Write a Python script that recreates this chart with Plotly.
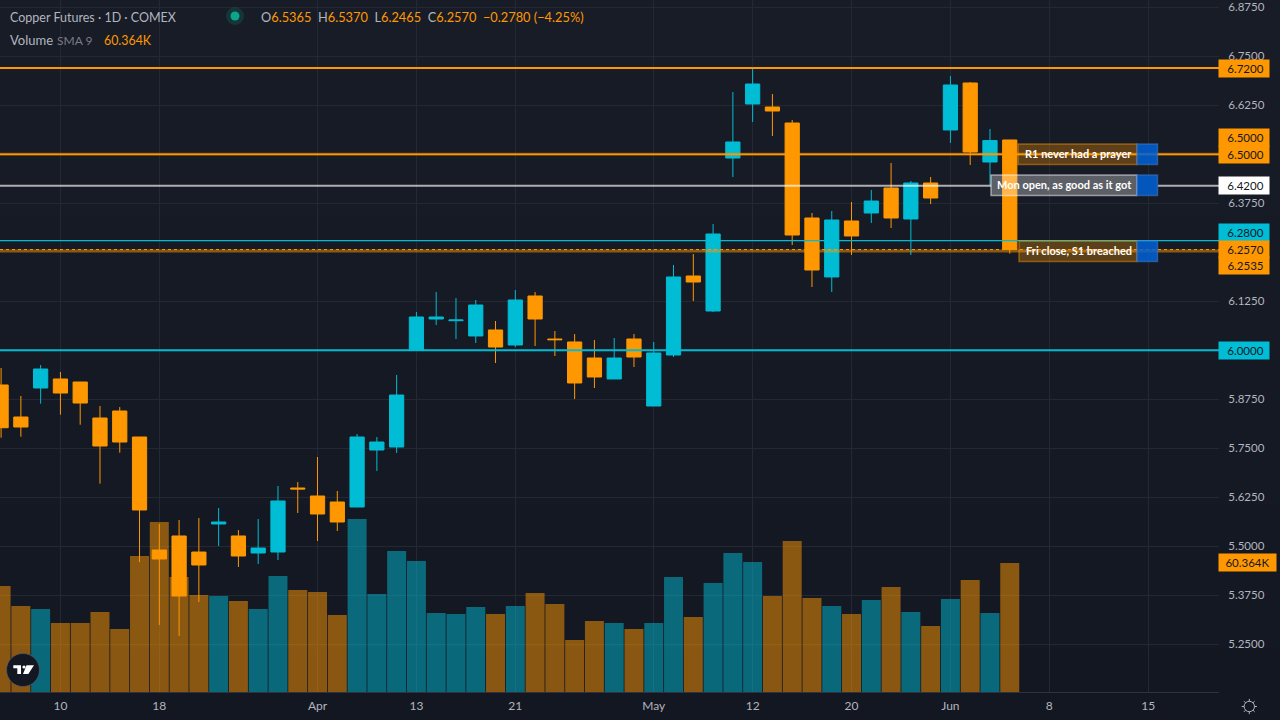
import math
import plotly.graph_objects as go

# Session index for each daily bar; the axis labels sit on selected sessions.
sessions = list(range(-3, 49))

opens = [5.9115, 5.8298, 5.9038, 5.9268, 5.9191, 5.8273, 5.8451, 5.7788, 5.4905, 5.5263, 5.4854, 5.5569, 5.5263,
         5.4829, 5.4854, 5.6487, 5.6283, 5.613, 5.6002, 5.7456, 5.7533, 6.0007, 6.0798, 6.0755, 6.0365, 6.0518,
         6.0135, 6.1385, 6.0288, 6.0212, 5.9803, 5.9268, 6.0288, 5.8579, 5.988, 6.1895, 6.1002, 6.4905, 6.6283,
         6.6206, 6.5798, 6.3375, 6.187, 6.3298, 6.3502, 6.414, 6.3349, 6.4268, 6.562, 6.6819, 6.4803, 6.5365]
highs = [5.9548, 5.8834, 5.9625, 5.9446, 5.9191, 5.8579, 5.8553, 5.7788, 5.5569, 5.5671, 5.5722, 5.5977, 5.5416,
         5.5696, 5.6538, 5.664, 5.7278, 5.641, 5.7865, 5.7788, 5.937, 6.0977, 6.1487, 6.1334, 6.1283, 6.0747,
         6.1538, 6.1487, 6.0492, 6.0416, 6.0263, 6.0314, 6.0416, 6.0212, 6.2176, 6.2456, 6.3222, 6.6589, 6.7176,
         6.6538, 6.5875, 6.3502, 6.3553, 6.3783, 6.4089, 6.4778, 6.4319, 6.4421, 6.6997, 6.6844, 6.5645, 6.537]
lows = [5.777, 5.7796, 5.8638, 5.8357, 5.8102, 5.6597, 5.7388, 5.4599, 5.2992, 5.2712, 5.3579, 5.5007, 5.4472,
        5.4548, 5.465, 5.5849, 5.5135, 5.539, 5.6002, 5.6921, 5.738, 6.0007, 6.0645, 6.0288, 6.0186, 5.9676,
        6.0084, 6.0109, 5.9854, 5.8757, 5.9038, 5.9268, 5.9574, 5.8579, 5.9829, 6.1257, 6.0977, 6.4421, 6.5824,
        6.5467, 6.2686, 6.1615, 6.1487, 6.2431, 6.3247, 6.312, 6.2431, 6.3732, 6.5288, 6.4727, 6.4217, 6.2465]
closes = [5.8025, 5.8043, 5.9523, 5.891, 5.8655, 5.7558, 5.766, 5.5926, 5.4676, 5.3732, 5.4523, 5.562, 5.4752,
          5.4956, 5.6156, 5.6462, 5.5824, 5.562, 5.7788, 5.766, 5.8859, 6.0849, 6.0849, 6.0773, 6.1155, 6.0084,
          6.1283, 6.0798, 6.027, 5.9166, 5.9319, 5.9803, 5.9829, 5.9931, 6.187, 6.1742, 6.2967, 6.5314, 6.6793,
          6.6104, 6.2941, 6.2048, 6.3324, 6.2916, 6.3808, 6.3375, 6.4268, 6.3885, 6.6768, 6.5058, 6.535, 6.257]

# Daily volume in thousands of contracts.
volumes_k = [49.6, 40.2, 38.8, 32.3, 32.3, 37.4, 29.5, 63.6, 79.6, 53.8, 45.4, 44.9, 42.6,
             38.8, 54.3, 47.7, 46.8, 36.0, 81.0, 45.9, 66.0, 61.3, 37.0, 36.5, 39.8, 36.5,
             40.2, 46.3, 41.2, 24.3, 33.2, 32.3, 29.5, 32.3, 53.8, 35.1, 51.0, 65.0, 60.8,
             44.9, 70.7, 44.0, 40.2, 36.5, 43.1, 49.1, 37.4, 30.9, 43.5, 52.4, 37.0, 60.364]

tick_sessions = [0, 5, 13, 18, 23, 30, 35, 40, 45, 50, 55]
tick_labels = ["10", "18", "Apr", "13", "21", "May", "12", "20", "Jun", "8", "15"]

# Scale labels; 6.0, 6.25 and 6.5 are taken by price tags and only keep their grid lines.
price_ticks = [5.25, 5.375, 5.5, 5.625, 5.75, 5.875, 6.125, 6.375, 6.625, 6.75, 6.875]
tagged_grid = [6.0, 6.25, 6.5]

ORANGE = "#FF9800"
CYAN = "#00BCD4"
BG_TOP = "#181C27"
BG_BOTTOM = "#131722"
TEXT = "#B2B5BE"
FONT = "Lato"
PX_W, PX_H = 1280, 720
PANE_R, PANE_B = 1219, 692
GRID = "#242833"
TICK_SIZE = 11.5


def px(x):
    return x / PX_W


def py(y):
    return 1 - y / PX_H


fig = go.Figure()

# Full-page vertical background wash on its own hidden axes.
fig.add_trace(go.Heatmap(
    x=[0, 1], y=[0, 1], z=[[0, 0], [1, 1]], zsmooth="best", showscale=False, hoverinfo="skip",
    colorscale=[[0, BG_BOTTOM], [1, BG_TOP]], xaxis="x", yaxis="y",
))

vol_colors = ["rgba(0,188,212,0.5)" if c > o else "rgba(255,152,0,0.5)" for o, c in zip(opens, closes)]
fig.add_trace(go.Bar(
    x=sessions, y=volumes_k, width=0.96, marker=dict(color=vol_colors, line=dict(width=0)),
    hoverinfo="skip", xaxis="x2", yaxis="y2",
))

fig.add_trace(go.Candlestick(
    x=sessions, open=opens, high=highs, low=lows, close=closes,
    increasing=dict(line=dict(color=CYAN, width=1), fillcolor=CYAN),
    decreasing=dict(line=dict(color=ORANGE, width=1), fillcolor=ORANGE),
    whiskerwidth=0, hoverinfo="skip", xaxis="x2", yaxis="y3",
))

shapes = []

for g in tagged_grid:
    shapes.append(dict(type="line", xref="paper", yref="y3", x0=0, x1=px(PANE_R), y0=g, y1=g,
                       line=dict(color=GRID, width=1), layer="below"))


def level(price, color, width, x0=0, x1=PANE_R, dash="solid"):
    shapes.append(dict(type="line", xref="paper", yref="y3", x0=px(x0), x1=px(x1), y0=price, y1=price,
                       line=dict(color=color, width=width, dash=dash), layer="above"))


R1 = 6.5
R2 = 6.72
MON_OPEN = 6.42
S1 = 6.28
FRI_MARK = 6.2535
S2 = 6.0
LAST_CLOSE = closes[-1]

level(R2, ORANGE, 2)
level(R1, "rgba(255,152,0,0.45)", 3)
level(R1, ORANGE, 1.5)
level(MON_OPEN, "rgba(255,255,255,0.65)", 2, 0, 991)
level(MON_OPEN, "rgba(255,255,255,0.65)", 2, 1158, PANE_R)
level(S1, CYAN, 1.2)
level(FRI_MARK, "rgba(255,152,0,0.5)", 3)
level(LAST_CLOSE, ORANGE, 1, dash="dot")
level(S2, CYAN, 2)


def rect(x0, y0, x1, y1, fill, edge):
    shapes.append(dict(type="rect", xref="paper", yref="paper", x0=px(x0), x1=px(x1), y0=py(y0), y1=py(y1),
                       fillcolor=fill, line=dict(color=edge, width=1.5), layer="above"))


# Callout boxes with their blue end caps.
callouts = [
    (1018, 144, "R1 never had a prayer", "rgba(255,152,0,0.3)", "rgba(255,152,0,0.45)"),
    (991, 175, "Mon open, as good as it got", "rgba(255,255,255,0.3)", "rgba(255,255,255,0.5)"),
    (1019, 241, "Fri close, S1 breached", "rgba(255,152,0,0.3)", "rgba(255,152,0,0.45)"),
]
annotations = []


def page_text(x, y, text, size=12, color=TEXT, anchor="left", weight=None):
    font = dict(family=FONT, size=size, color=color)
    if weight:
        font["weight"] = weight
    annotations.append(dict(xref="paper", yref="paper", x=px(x), y=py(y), text=text, showarrow=False,
                            xanchor=anchor, yanchor="middle", font=font, borderpad=0))


for left, top, label, fill, edge in callouts:
    rect(left, top, 1137, top + 20.5, fill, edge)
    rect(1137, top, 1157.5, top + 20.5, "rgba(0,98,215,0.85)", "rgba(70,120,200,0.55)")
    page_text(1133, top + 9.5, label, size=11, color="#FFFFFF", anchor="right", weight=700)

# Price tags on the right-hand scale.
tags = [
    (R2, ORANGE, "#131722", 0),
    (R1, ORANGE, "#131722", 17),
    (R1, ORANGE, "#131722", 0),
    (MON_OPEN, "#FFFFFF", "#131722", 0),
    (S1, CYAN, "#131722", 8),
    (LAST_CLOSE, ORANGE, "#131722", 0),
    (FRI_MARK, ORANGE, "#131722", -15),
    (S2, CYAN, "#131722", 0),
]
for price, bg, fg, shift in tags:
    annotations.append(dict(xref="paper", yref="y3", x=px(1218), y=price, yshift=shift, text=f"&nbsp;{price:.4f}",
                            showarrow=False, xanchor="left", yanchor="middle", width=50, height=17, align="center",
                            bgcolor=bg, font=dict(family=FONT, size=TICK_SIZE, color=fg), borderpad=0))
annotations.append(dict(xref="paper", yref="y2", x=px(1218), y=volumes_k[-1], text=f"{volumes_k[-1]:.3f}K",
                        showarrow=False, xanchor="left", yanchor="middle", width=57, height=17, align="center",
                        bgcolor=ORANGE, font=dict(family=FONT, size=TICK_SIZE, color="#131722"), borderpad=0))

# Legend rows across the top of the pane.
change = closes[-1] - closes[-2]
pct = change / closes[-2] * 100


def val(v):
    return f'<span style="color:{ORANGE}">{v}</span>'


page_text(9, 17, "Copper Futures · 1D · COMEX", size=12.5)
ohlc = (f"O{val(f'{opens[-1]:.4f}')}&nbsp; H{val(f'{highs[-1]:.4f}')}&nbsp; L{val(f'{lows[-1]:.4f}')}&nbsp; "
        f"C{val(f'{closes[-1]:.4f}')}&nbsp; " + val(f"−{abs(change):.4f} (−{abs(pct):.2f}%)"))
page_text(260, 17, ohlc, size=12.8)
page_text(9, 40, "Volume", size=13)
page_text(56, 40, "SMA 9", size=12, color="#787B86")
page_text(103, 40, f"{volumes_k[-1]:.3f}K", size=12.4, color=ORANGE)


def circle(cx, cy, r, fill, edge="rgba(0,0,0,0)", w=0):
    shapes.append(dict(type="circle", xref="paper", yref="paper", x0=px(cx - r), x1=px(cx + r),
                       y0=py(cy + r), y1=py(cy - r), fillcolor=fill, line=dict(color=edge, width=w), layer="above"))


def poly(points, fill):
    path = "M " + " L ".join(f"{px(x)} {py(y)}" for x, y in points) + " Z"
    shapes.append(dict(type="path", xref="paper", yref="paper", path=path, fillcolor=fill,
                       line=dict(width=0), layer="above"))


# Market status dot.
circle(235, 16, 9, "rgba(8,153,129,0.2)")
circle(235, 16, 4.5, "#0AA58A")

# Logo badge.
circle(23, 670, 16.5, "#131722", "rgba(90,95,110,0.6)", 1)
poly([(13.3, 665.3), (21, 665.3), (21, 674), (17.3, 674), (17.3, 668.3), (13.3, 668.3)], "#FFFFFF")
circle(24, 667, 1.6, "#FFFFFF")
poly([(26.5, 665.3), (34, 665.3), (28.3, 674), (23, 674)], "#FFFFFF")

# Scale settings icon.
circle(1249.3, 706.5, 5.2, "rgba(0,0,0,0)", TEXT, 1)
for k in range(8):
    a = k * math.pi / 4
    shapes.append(dict(type="line", xref="paper", yref="paper",
                       x0=px(1249.3 + 5.2 * math.cos(a)), x1=px(1249.3 + 7.6 * math.cos(a)),
                       y0=py(706.5 + 5.2 * math.sin(a)), y1=py(706.5 + 7.6 * math.sin(a)),
                       line=dict(color=TEXT, width=1), layer="above"))

X_RANGE = [-3.055, 58.58]
PANE_X = [0, PANE_R / PX_W]
PANE_Y = [1 - PANE_B / PX_H, 1]
PRICE_RANGE = [5.1283, 6.8936]

fig.update_layout(
    width=PX_W, height=PX_H, autosize=False, margin=dict(l=0, r=0, t=0, b=0),
    paper_bgcolor=BG_BOTTOM, plot_bgcolor="rgba(0,0,0,0)", showlegend=False, hovermode=False,
    boxmode="overlay", boxgap=0.28, boxgroupgap=0, shapes=shapes, annotations=annotations,
    font=dict(family=FONT, size=12, color=TEXT),
    xaxis=dict(domain=[0, 1], range=[0, 1], visible=False, fixedrange=True),
    yaxis=dict(domain=[0, 1], range=[0, 1], visible=False, fixedrange=True),
    xaxis2=dict(domain=PANE_X, range=X_RANGE, anchor="y2", tickmode="array", tickvals=tick_sessions,
                ticktext=tick_labels, showgrid=True, gridcolor=GRID, gridwidth=1, zeroline=False,
                showline=True, linecolor="#2E323D", linewidth=1, ticks="outside", ticklen=3,
                tickcolor="rgba(0,0,0,0)", tickfont=dict(family=FONT, size=12, color=TEXT),
                rangeslider=dict(visible=False), fixedrange=True),
    yaxis2=dict(domain=PANE_Y, range=[0, 323.8], anchor="x2", visible=False, fixedrange=True, showgrid=False),
    yaxis3=dict(domain=PANE_Y, range=PRICE_RANGE, anchor="x2", overlaying="y2", side="right", tickmode="array",
                tickvals=price_ticks, ticktext=[f"{t:.4f}" for t in price_ticks],
                ticklabeloverflow="allow", showgrid=True, gridcolor=GRID, gridwidth=1, zeroline=False, showline=False,
                ticks="outside", ticklen=6, tickcolor="rgba(0,0,0,0)",
                tickfont=dict(family=FONT, size=TICK_SIZE, color=TEXT), fixedrange=True),
)

fig.write_html("out.html", config=dict(displayModeBar=False))
